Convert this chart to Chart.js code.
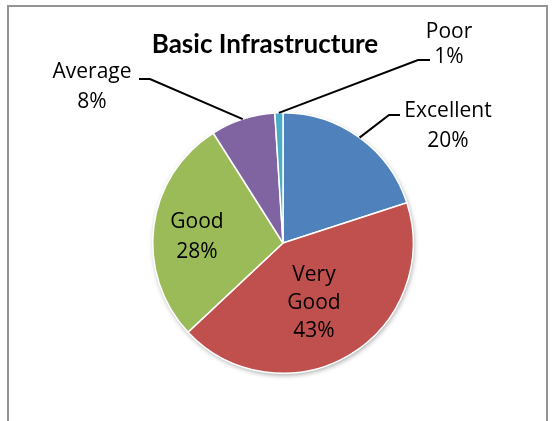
<!DOCTYPE html>
<html>
<head>
<meta charset="utf-8">
<script src="https://cdn.jsdelivr.net/npm/chart.js@4"></script>
<style>
  html, body { margin: 0; padding: 0; background: #fff; }
  canvas { display: block; }
</style>
</head>
<body>
<canvas id="pieChart" width="558" height="421"></canvas>
<script>
// chart data
const chartTitle = 'Basic Infrastructure';
const categories = ['Excellent', 'Very Good', 'Good', 'Average', 'Poor'];
const values = [20, 43, 28, 8, 1];
const colors = ['#4F81BD', '#C0504D', '#9BBB59', '#8064A2', '#4BACC6'];

const labelFont = '21px "Open Sans", Lato, sans-serif';

// where each data label goes (x = text centre, y = first baseline)
const labelLayout = [
  { x: 448, y: 117, lh: 30, inside: false, stub: [389, 115, 400, 115] },
  { x: 314, y: 281, lh: 28, inside: true },
  { x: 197, y: 228, lh: 30, inside: true },
  { x: 92, y: 78, lh: 30, inside: false, stub: [150, 79, 139, 79] },
  { x: 449, y: 38, lh: 25, inside: false, stub: [418, 60, 430, 60] }
];

const decorations = {
  id: 'decorations',
  beforeDraw(chart) {
    const ctx = chart.ctx;
    ctx.save();
    ctx.strokeStyle = '#949494';
    ctx.lineWidth = 2;
    ctx.beginPath();
    ctx.moveTo(8, 421);
    ctx.lineTo(8, 6);
    ctx.lineTo(547, 6);
    ctx.lineTo(547, 421);
    ctx.stroke();
    ctx.restore();
  },
  beforeDatasetsDraw(chart) {
    // soft shadow behind the pie
    const arc = chart.getDatasetMeta(0).data[0];
    const ctx = chart.ctx;
    ctx.save();
    ctx.shadowColor = 'rgba(0,0,0,0.35)';
    ctx.shadowBlur = 5;
    ctx.shadowOffsetX = 1;
    ctx.shadowOffsetY = 2;
    ctx.fillStyle = '#fff';
    ctx.beginPath();
    ctx.arc(arc.x, arc.y, arc.outerRadius, 0, Math.PI * 2);
    ctx.fill();
    ctx.restore();
  },
  afterDatasetsDraw(chart) {
    const ctx = chart.ctx;
    const meta = chart.getDatasetMeta(0);
    const total = values.reduce((a, b) => a + b, 0);
    ctx.save();

    // title
    ctx.fillStyle = '#000';
    ctx.font = 'bold 26px Lato, "Open Sans", sans-serif';
    ctx.textAlign = 'center';
    ctx.textBaseline = 'alphabetic';
    ctx.fillText(chartTitle, 265, 53);

    ctx.font = labelFont;
    meta.data.forEach((arc, i) => {
      const lay = labelLayout[i];
      const pct = Math.round(values[i] / total * 100) + '%';
      const lines = lay.inside ? categories[i].split(' ').concat([pct]) : [categories[i], pct];
      lines.forEach((t, k) => ctx.fillText(t, lay.x, lay.y + k * lay.lh));

      if (!lay.inside) {
        const mid = (arc.startAngle + arc.endAngle) / 2;
        const px = arc.x + Math.cos(mid) * arc.outerRadius;
        const py = arc.y + Math.sin(mid) * arc.outerRadius;
        ctx.strokeStyle = '#000';
        ctx.lineWidth = 2;
        ctx.beginPath();
        ctx.moveTo(px, py);
        ctx.lineTo(lay.stub[0], lay.stub[1]);
        ctx.lineTo(lay.stub[2], lay.stub[3]);
        ctx.stroke();
      }
    });
    ctx.restore();
  }
};

new Chart(document.getElementById('pieChart').getContext('2d'), {
  type: 'pie',
  data: {
    labels: categories,
    datasets: [{
      data: values,
      backgroundColor: colors,
      borderColor: '#fff',
      borderWidth: 1.5
    }]
  },
  options: {
    responsive: false,
    animation: false,
    layout: { padding: { left: 152, right: 144, top: 112, bottom: 47 } },
    plugins: {
      legend: { display: false },
      tooltip: { enabled: false }
    }
  },
  plugins: [decorations]
});
</script>
</body>
</html>
